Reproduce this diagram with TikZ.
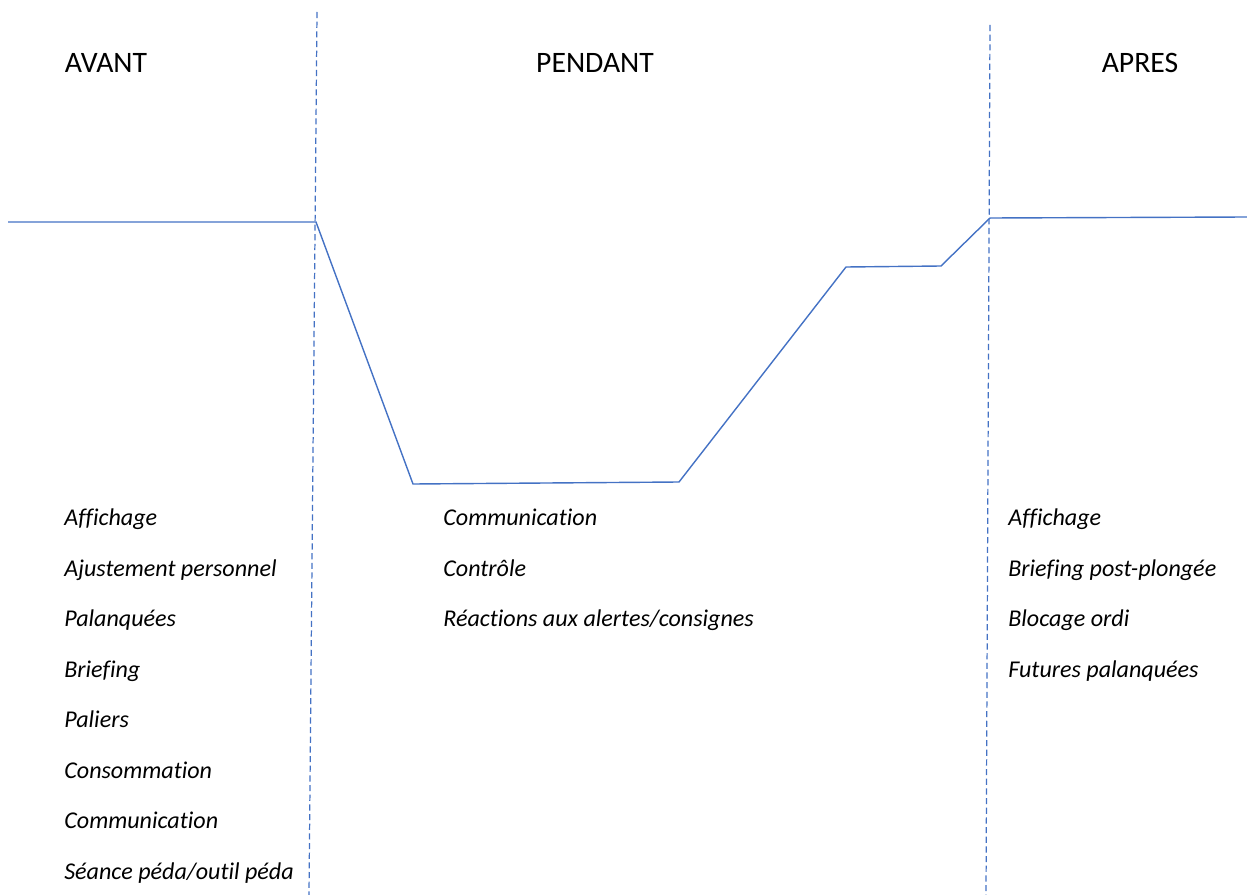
\documentclass[tikz,border=0pt]{standalone}
\usepackage{fontspec}
\setmainfont{Carlito}[Ligatures=NoCommon]
\definecolor{plongee}{RGB}{68,114,196}
\begin{document}
\begin{tikzpicture}[x=0.02cm, y=-0.02cm,
		phase/.style={anchor=base, inner sep=0pt, font=\fontsize{16.9}{20}\selectfont},
		item/.style={anchor=base west, inner sep=0pt, font=\fontsize{13.7}{16}\selectfont\itshape},
		profil/.style={draw=plongee, line width=0.8pt},
		limite/.style={draw=plongee, line width=0.7pt, dash pattern=on 3.5pt off 2pt}
		]
	\useasboundingbox (0,0) rectangle (1247,895);
	% headers
	\node [phase] (avant) at (106,73) {AVANT};
	\node [phase] (pendant) at (595,73) {PENDANT};
	\node [phase] (apres) at (1140,73) {APRES};
	% dive profile
	\coordinate (p0) at (8,222);
	\coordinate (p1) at (316,222);
	\coordinate (p2) at (413,484);
	\coordinate (p3) at (679,482);
	\coordinate (p4) at (846,267);
	\coordinate (p5) at (941,266);
	\coordinate (p6) at (990,218);
	\coordinate (p7) at (1247,217);
	\draw [profil] (p0) -- (p1) -- (p2) -- (p3) -- (p4) -- (p5) -- (p6) -- (p7);
	% phase limits
	\coordinate (g1) at (317,12);
	\coordinate (g2) at (309,895);
	\coordinate (d1) at (990,25);
	\coordinate (d2) at (986,895);
	\draw [limite] (g1) -- (g2);
	\draw [limite] (d1) -- (d2);
	% avant
	\node [item] (a1) at (64,525.5) {Affichage};
	\node [item] (a2) at (64,576) {Ajustement personnel};
	\node [item] (a3) at (64,626.5) {Palanquées};
	\node [item] (a4) at (64,677) {Briefing};
	\node [item] (a5) at (64,727.5) {Paliers};
	\node [item] (a6) at (64,778) {Consommation};
	\node [item] (a7) at (64,828.5) {Communication};
	\node [item] (a8) at (64,879) {Séance péda/outil péda};
	% pendant
	\node [item] (b1) at (443,525.5) {Communication};
	\node [item] (b2) at (443,576) {Contrôle};
	\node [item] (b3) at (443,626.5) {Réactions aux alertes/consignes};
	% apres
	\node [item] (c1) at (1008,525.5) {Affichage};
	\node [item] (c2) at (1008,576) {Briefing post-plongée};
	\node [item] (c3) at (1008,626.5) {Blocage ordi};
	\node [item] (c4) at (1008,677) {Futures palanquées};
\end{tikzpicture}
\end{document}
